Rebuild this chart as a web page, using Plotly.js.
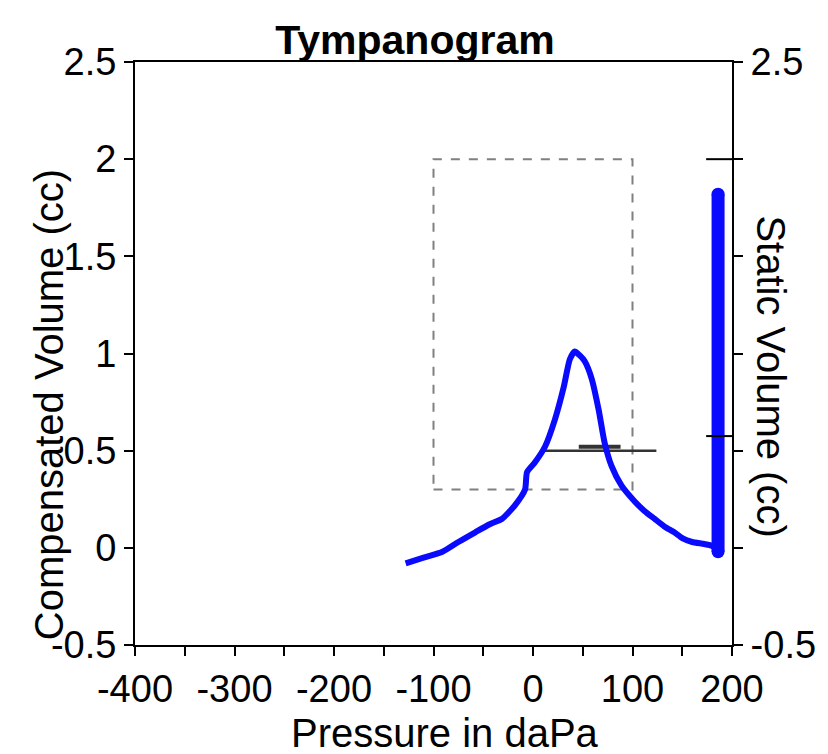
<!DOCTYPE html>
<html>
<head>
<meta charset="utf-8">
<script src="https://cdn.plot.ly/plotly-3.0.1.min.js"></script>
<style>html,body{margin:0;padding:0;background:#fff;}#chart{width:828px;height:754px;}</style>
</head>
<body>
<div id="chart"></div>
<script>
// Tympanogram curve (pressure in daPa, compensated volume in cc)
const pressure = [-128, -110, -91, -75, -58, -44, -31, -18, -8, -6, 2, 12, 22, 31, 37, 42, 47, 52, 59, 66, 72, 79, 89, 102, 112, 122, 132, 142, 150, 160, 172, 180, 186];
const compliance = [-0.08, -0.05, -0.02, 0.03, 0.08, 0.12, 0.15, 0.22, 0.30, 0.39, 0.44, 0.52, 0.66, 0.83, 0.97, 1.01, 0.99, 0.96, 0.87, 0.71, 0.54, 0.42, 0.32, 0.24, 0.19, 0.15, 0.11, 0.08, 0.05, 0.03, 0.02, 0.01, -0.02];
// Static volume bar
const staticP = [186, 186];
const staticVol = [-0.02, 1.82];
// Normal range box
const boxP = [-100, 100, 100, -100, -100];
const boxV = [0.3, 0.3, 2.0, 2.0, 0.3];
// Reference line and peak marker
const refP = [11, 124];
const refV = [0.5, 0.5];
const peakP = [46, 88];
const peakV = [0.52, 0.52];
// Static volume range marks on right axis
const staticMarks = [2.0, 0.575];
const staticMarkP = [174, 200];
// Ticks
const xTickVals = [-400,-350,-300,-250,-200,-150,-100,-50,0,50,100,150,200];
const xTickText = ['-400','','-300','','-200','','-100','','0','','100','','200'];
const yTickVals = [-0.5, 0, 0.5, 1, 1.5, 2, 2.5];
const yTickText = ['-0.5','0','0.5','1','1.5','2','2.5'];
const y2TickText = ['-0.5','','','','','','2.5'];

const font = 'Liberation Sans, Arial, sans-serif';
const tickFont = {family: font, size: 38, color: '#000'};
const traces = [
  {x: boxP, y: boxV, mode: 'lines', line: {color: '#808080', width: 2, dash: 'dash'}, hoverinfo: 'skip'},
  {x: refP, y: refV, mode: 'lines', line: {color: '#333', width: 2.5}},
  {x: peakP, y: peakV, mode: 'lines', line: {color: '#333', width: 4}},
  {x: pressure, y: compliance, mode: 'lines', line: {color: '#0a0aff', width: 6, shape: 'spline', smoothing: 0.6}},
  {x: staticP, y: staticVol, mode: 'lines+markers', line: {color: '#0a0aff', width: 13}, marker: {color: '#0a0aff', size: 13}},
];
staticMarks.forEach(v => {
  traces.push({x: staticMarkP, y: [v, v], yaxis: 'y2', mode: 'lines', line: {color: '#000', width: 2}});
});

const layout = {
  width: 828, height: 754,
  margin: {l: 135, r: 96, t: 62, b: 109},
  showlegend: false,
  paper_bgcolor: '#fff', plot_bgcolor: '#fff',
  font: {family: font, color: '#000'},
  title: {text: '<b>Tympanogram</b>', font: {family: font, size: 41, color: '#000'}, xref: 'paper', x: 0.469, xanchor: 'center', yref: 'container', y: 0.947, yanchor: 'middle'},
  xaxis: {range: [-400, 200], tickmode: 'array', tickvals: xTickVals, ticktext: xTickText, ticks: 'outside', ticklen: 9, tickwidth: 2, tickcolor: '#000',
          showline: true, linecolor: '#000', linewidth: 2, mirror: true, showgrid: false, zeroline: false, tickfont: tickFont},
  yaxis: {range: [-0.5, 2.5], tickmode: 'array', tickvals: yTickVals, ticktext: yTickText, ticks: 'outside', ticklen: 9, tickwidth: 2, tickcolor: '#000',
          showline: true, linecolor: '#000', linewidth: 2, showgrid: false, zeroline: false, tickfont: tickFont},
  yaxis2: {range: [-0.5, 2.5], overlaying: 'y', side: 'right', tickmode: 'array', tickvals: yTickVals, ticktext: y2TickText, ticks: 'outside', ticklen: 9, tickwidth: 2, tickcolor: '#000',
          showline: true, linecolor: '#000', linewidth: 2, showgrid: false, zeroline: false, tickfont: tickFont},
  annotations: [
    {text: 'Compensated Volume (cc)', xref: 'paper', yref: 'paper', x: -0.145, y: 0.412, xanchor: 'center', yanchor: 'middle', textangle: -90, showarrow: false, font: {family: font, size: 40, color: '#000'}},
    {text: 'Static Volume (cc)', xref: 'paper', yref: 'paper', x: 1.065, y: 0.461, xanchor: 'center', yanchor: 'middle', textangle: 90, showarrow: false, font: {family: font, size: 40, color: '#000'}},
    {text: 'Pressure in daPa', xref: 'paper', yref: 'paper', x: 0.519, y: -0.151, xanchor: 'center', yanchor: 'middle', showarrow: false, font: {family: font, size: 40, color: '#000'}}
  ]
};
Plotly.newPlot('chart', traces, layout, {displayModeBar: false, staticPlot: true});
</script>
</body>
</html>
